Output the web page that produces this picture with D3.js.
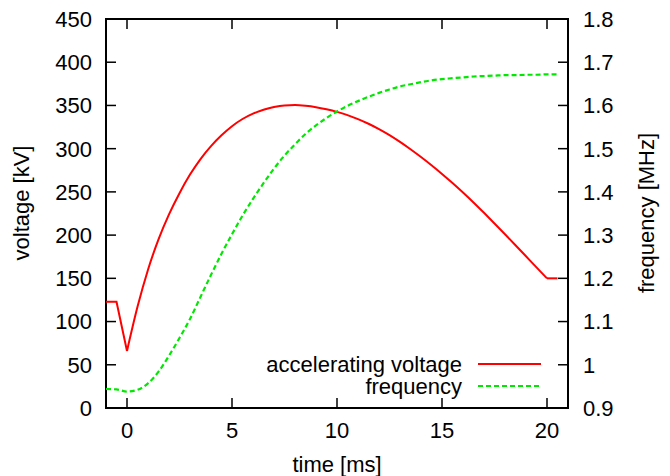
<!DOCTYPE html>
<html><head><meta charset="utf-8">
<script src="https://cdn.jsdelivr.net/npm/d3@7"></script>
<style>body{margin:0;background:#fff}svg{display:block}text{font-family:"Liberation Sans",Arial,Helvetica,sans-serif;fill:#000}</style>
</head><body>
<script>
const timeMs = [-1,-0.5,0,0.5,1,1.5,2,2.5,3,3.5,4,4.5,5,5.5,6,6.5,7,7.5,8,8.5,9,9.5,10,10.5,11,11.5,12,12.5,13,13.5,14,14.5,15,15.5,16,16.5,17,17.5,18,18.5,19,19.5,20,20.5];
const voltageKV = [123,123,66,117,160,195,224,248.5,270,288,303,315.5,326,334.3,340.5,345,348.2,350,350.4,349.6,348,345.6,342.6,338.8,334.2,328.8,322.6,315.6,307.8,299.3,290.3,280.8,270.8,260.3,249.3,237.8,225.8,213.5,201,188.3,175.5,162.7,150,150];
const frequencyMHz = [0.944,0.943,0.938,0.942,0.957,0.984,1.021,1.062,1.106,1.157,1.208,1.257,1.302,1.345,1.384,1.42,1.454,1.484,1.51,1.534,1.554,1.571,1.586,1.599,1.61,1.62,1.629,1.637,1.644,1.649,1.654,1.658,1.661,1.663,1.665,1.667,1.668,1.669,1.67,1.67,1.671,1.671,1.672,1.672];
const xTicks = [0,5,10,15,20];
const yTicks = [0,50,100,150,200,250,300,350,400,450];
const y2Ticks = [0.9,1,1.1,1.2,1.3,1.4,1.5,1.6,1.7,1.8];
const seriesNames = ["accelerating voltage","frequency"];

const W=670,H=476, L=106,R=568,T=19,B=408, FS=22;
const svg=d3.select("body").append("svg").attr("width",W).attr("height",H);
const x=d3.scaleLinear().domain([-1,21]).range([L,R]);
const y=d3.scaleLinear().domain([0,450]).range([B,T]);
const y2=d3.scaleLinear().domain([0.9,1.8]).range([B,T]);

const g=svg.append("g");
const tk=10;
xTicks.forEach(t=>{
  g.append("line").attr("x1",x(t)).attr("x2",x(t)).attr("y1",B).attr("y2",B-tk).attr("stroke","#000").attr("stroke-width",1.5);
  g.append("line").attr("x1",x(t)).attr("x2",x(t)).attr("y1",T).attr("y2",T+tk).attr("stroke","#000").attr("stroke-width",1.5);
  g.append("text").attr("x",x(t)).attr("y",B+30).attr("text-anchor","middle").attr("font-size",FS).text(t);
});
yTicks.forEach(v=>{
  g.append("line").attr("x1",L).attr("x2",L+tk).attr("y1",y(v)).attr("y2",y(v)).attr("stroke","#000").attr("stroke-width",1.5);
  g.append("text").attr("x",L-14).attr("y",y(v)).attr("dy","0.36em").attr("text-anchor","end").attr("font-size",FS).text(v);
});
y2Ticks.forEach(v=>{
  g.append("line").attr("x1",R).attr("x2",R-tk).attr("y1",y2(v)).attr("y2",y2(v)).attr("stroke","#000").attr("stroke-width",1.5);
  g.append("text").attr("x",R+15).attr("y",y2(v)).attr("dy","0.36em").attr("text-anchor","start").attr("font-size",FS).text(d3.format("~g")(v));
});
g.append("rect").attr("x",L).attr("y",T).attr("width",R-L).attr("height",B-T).attr("fill","none").attr("stroke","#000").attr("stroke-width",2);

svg.append("text").attr("x",337).attr("y",472).attr("text-anchor","middle").attr("font-size",FS).text("time [ms]");
svg.append("text").attr("transform","translate(29,203) rotate(-90)").attr("text-anchor","middle").attr("font-size",FS).text("voltage [kV]");
svg.append("text").attr("transform","translate(654,213) rotate(-90)").attr("text-anchor","middle").attr("font-size",FS).text("frequency [MHz]");

const pts=timeMs.map((t,i)=>({t,v:voltageKV[i],f:frequencyMHz[i]}));
const i0=timeMs.indexOf(0), i20=timeMs.indexOf(20);
const lineLin=d3.line().x(d=>x(d.t)).y(d=>y(d.v));
const lineMono=d3.line().x(d=>x(d.t)).y(d=>y(d.v)).curve(d3.curveMonotoneX);
const red="#ff0000", green="#00e800";
[[pts.slice(0,i0+1),lineLin],[pts.slice(i0,i20+1),lineMono],[pts.slice(i20),lineLin]].forEach(([d,l])=>{
  svg.append("path").attr("d",l(d)).attr("fill","none").attr("stroke",red).attr("stroke-width",2).attr("stroke-linejoin","miter");
});
const fLine=d3.line().x(d=>x(d.t)).y(d=>y2(d.f)).curve(d3.curveMonotoneX);
svg.append("path").attr("d",fLine(pts)).attr("fill","none").attr("stroke",green).attr("stroke-width",2.2).attr("stroke-dasharray","5,3");

const leg=[{name:seriesNames[0],c:red,dash:null,y:364},{name:seriesNames[1],c:green,dash:"5,3",y:386}];
leg.forEach(d=>{
  svg.append("text").attr("x",462).attr("y",d.y).attr("dy","0.36em").attr("text-anchor","end").attr("font-size",FS).text(d.name);
  const ln=svg.append("line").attr("x1",478).attr("x2",541).attr("y1",d.y).attr("y2",d.y).attr("stroke",d.c).attr("stroke-width",2);
  if(d.dash) ln.attr("stroke-dasharray",d.dash);
});
</script>
</body></html>
